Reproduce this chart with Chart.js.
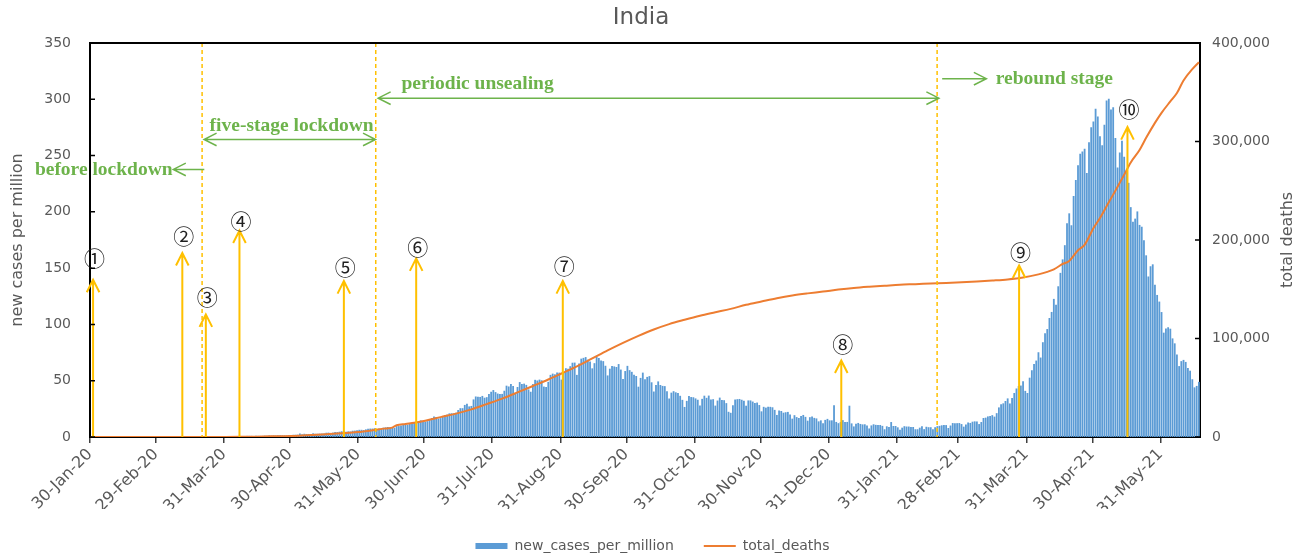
<!DOCTYPE html>
<html>
<head>
<meta charset="utf-8">
<title>India</title>
<script src="https://cdn.jsdelivr.net/npm/chart.js@4"></script>
<style>
  html, body { margin: 0; padding: 0; background: #fff; }
</style>
</head>
<body>
<canvas id="chart" width="1305" height="556"></canvas>
<script>
// day 0 = 30-Jan-20, one bar per day up to 17-Jun-21
const tickDays = [0, 30, 61, 91, 122, 152, 183, 214, 244, 275, 305, 336, 367, 395, 426, 456, 487];
const tickLabels = ['30-Jan-20', '29-Feb-20', '31-Mar-20', '30-Apr-20', '31-May-20', '30-Jun-20',
  '31-Jul-20', '31-Aug-20', '30-Sep-20', '31-Oct-20', '30-Nov-20', '31-Dec-20', '31-Jan-21',
  '28-Feb-21', '31-Mar-21', '30-Apr-21', '31-May-21'];

// new cases per million, one value per day (a line per month)
const newCasesPerMillion = [
  0,0,0,0,0,0,0,0,0,0,0,0,0,0,0,0,0,0,0,0,0,0,0,0,0,0,0,0,0,0,0,
  0,0,0,0,0,0,0,0,0,0,0,0,0,0,0,0,0,0,0,0,0.1,0.1,0.1,0.1,0.1,0.1,0.1,0.1,0.1,0.2,0.2,
  0.3,0.4,0.4,0.4,0.4,0.5,0.4,0.4,0.6,0.7,0.7,0.7,0.5,0.9,0.7,0.7,0.7,0.9,0.9,1.1,0.9,1.1,1.0,1.2,1.3,1.2,1.2,1.1,1.4,1.2,
  1.7,1.7,1.8,2.8,2.1,2.6,2.4,2.4,2.3,3.0,2.6,2.6,2.7,2.8,2.8,3.5,3.6,3.3,3.6,4.1,4.1,4.4,4.8,4.9,4.4,4.7,4.6,5.3,5.4,5.8,6.1,
  6.1,5.9,6.5,7.0,7.2,7.2,7.5,6.5,7.2,7.2,8.0,8.3,8.6,8.3,8.0,7.8,9.4,9.4,9.9,10.5,11.2,10.7,11.4,11.6,12.3,13.0,13.4,14.5,14.1,13.4,
  13.8,15.1,16.5,18.0,17.5,16.2,16.5,18.0,19.2,19.6,20.7,20.8,20.7,21.3,23.7,25.3,25.3,28.2,29.3,26.9,27.3,33.1,35.7,35.4,35.3,36.2,34.6,35.1,37.8,39.9,41.4,
  39.6,38.3,37.8,38.0,40.8,45.3,44.6,46.7,45.0,38.8,44.1,48.5,46.8,47.1,46.0,42.0,39.9,46.7,50.5,49.9,50.7,50.1,44.5,44.1,48.7,54.9,56.0,55.4,57.1,56.9,50.7,
  56.8,60.8,60.4,62.6,65.7,65.8,54.9,65.0,69.3,70.0,70.7,68.4,66.7,60.7,65.3,70.9,69.9,67.6,67.1,63.0,54.4,60.4,62.7,62.4,61.9,64.5,59.6,51.2,58.3,62.9,
  59.1,57.6,54.9,53.9,44.4,52.2,56.9,51.1,53.1,53.8,48.3,40.1,46.0,49.1,45.9,45.1,44.9,40.4,33.9,39.1,40.4,39.4,38.7,36.3,32.7,26.4,31.8,36.2,35.2,35.0,34.0,
  32.8,27.8,33.6,36.4,34.5,36.5,33.1,33.3,27.6,32.1,34.7,32.5,32.4,29.8,22.1,21.2,28.0,33.0,33.3,33.5,32.8,32.0,27.5,32.2,32.2,31.2,29.9,30.3,28.1,22.5,
  26.5,25.8,26.5,26.5,26.1,23.8,19.3,23.3,22.8,21.3,21.7,22.0,19.6,16.0,19.1,17.4,16.6,18.3,19.3,17.6,14.2,17.3,17.9,16.7,16.2,13.6,14.5,11.9,14.9,15.8,14.5,
  14.5,28.0,13.1,12.0,13.1,14.7,13.1,13.1,27.5,11.8,9.1,11.5,12.2,11.3,10.9,11.0,10.0,7.3,10.0,11.0,10.5,10.4,10.4,9.6,6.6,9.2,8.5,13.0,9.5,9.5,8.3,
  6.2,8.0,9.3,9.0,9.0,8.5,8.6,6.6,6.6,8.0,9.3,6.7,8.8,8.4,8.4,6.6,8.4,9.3,9.6,10.1,10.4,10.3,7.7,9.9,12.1,12.0,12.0,12.1,
  11.2,8.9,10.8,12.6,12.2,13.3,13.6,13.5,11.2,13.0,16.6,16.9,18.0,18.3,19.1,17.8,20.9,26.0,28.8,29.6,31.7,34.0,29.5,34.3,38.8,42.8,45.1,45.4,49.3,40.7,38.8,
  52.4,59.0,64.6,67.6,75.0,70.3,83.9,91.9,95.6,105.4,110.8,122.4,117.2,133.6,145.5,157.5,170.1,189.5,198.4,187.8,213.8,228.1,241.1,251.3,253.4,255.8,234.2,261.6,274.8,280.0,
  291.3,284.4,266.8,258.9,277.0,298.7,300.1,290.6,292.6,265.3,239.1,252.5,262.8,248.7,236.3,225.5,203.9,191.0,193.7,200.1,188.1,186.5,174.5,161.1,142.3,151.4,153.1,135.0,125.9,120.0,110.7,
  92.4,96.2,97.2,95.9,87.3,82.9,72.9,62.7,67.1,68.2,66.4,61.1,58.6,51.0,43.8,45.1,48.7
];

// cumulative deaths, read at roughly weekly days
const deathDays = [0, 35, 45, 55, 61, 68, 75, 82, 91, 98, 105, 112, 119, 122, 126, 133, 137, 139, 143, 147,
  152, 159, 166, 173, 180, 187, 194, 201, 208, 214, 221, 228, 235, 242, 249, 256, 263, 270, 277, 284,
  291, 298, 305, 312, 319, 326, 333, 340, 347, 354, 361, 368, 375, 382, 389, 396, 403, 410, 417, 424,
  431, 435, 438, 442, 445, 449, 452, 456, 459, 463, 466, 470, 473, 477, 480, 484, 487, 491, 494, 497,
  501, 504];
const totalDeaths = [0, 0, 2, 10, 35, 149, 377, 640, 1075, 1783, 2549, 3435, 4531, 5164, 6075, 8498, 9520, 11903, 13254, 14476,
  16475, 20160, 23727, 28084, 33425, 38938, 45257, 51797, 58390, 64469, 71642, 79722, 87882, 95542, 102685, 109150, 114610, 119014, 123097, 126611,
  130070, 134218, 137621, 140958, 143709, 145810, 147622, 149649, 151327, 152556, 153587, 154596, 155158, 155813, 156385, 157157, 157930, 158856, 159967, 161843,
  165101, 167642, 170179, 175649, 178769, 189544, 195123, 211853, 222408, 238270, 249992, 266207, 278719, 291331, 303720, 318895, 329100, 340702, 349186, 362000,
  373500, 380500];

// annotations (day index / left-axis value)
const phaseDays = [51, 130, 385.4];
const markerNames = ['①', '②', '③', '④', '⑤', '⑥', '⑦', '⑧', '⑨', '⑩'];
const markerDays = [1.4, 42, 52.7, 68, 115.5, 148.4, 215.1, 341.8, 422.7, 472];
const markerTops = [139.7, 163.4, 108.9, 183.5, 138.5, 158.7, 138.5, 68, 152.4, 275.3];
const markerLabelY = [158.7, 178.2, 124, 191.8, 150.9, 168.7, 151.5, 82.9, 164.2, 291.6];

const stages = [
  { text: 'before lockdown', from: 52, to: 37.9, y: 237.7, textDay: 37.6, textY: 232.4, align: 'right', both: false },
  { text: 'five-stage lockdown', from: 51.9, to: 129.9, y: 264.3, textDay: 54.4, textY: 271.7, align: 'left', both: true },
  { text: 'periodic unsealing', from: 131.1, to: 386.2, y: 301, textDay: 141.7, textY: 309.4, align: 'left', both: true },
  { text: 'rebound stage', from: 387.7, to: 407.8, y: 318.3, textDay: 412.1, textY: 313.8, align: 'left', both: false }
];

const BLUE = '#5B9BD5';
const ORANGE = '#ED7D31';
const YELLOW = '#FFC000';
const GREEN = '#6DB34B';
const GREY = '#595959';

Chart.defaults.font.family = '"DejaVu Sans", sans-serif';
Chart.defaults.color = GREY;

function arrowHead(ctx, x, y, dx, dy) {
  // open "V" head, (dx, dy) = unit direction the arrow points to
  const len = 12.5, half = 6.3;
  ctx.moveTo(x - dx * len - dy * half, y - dy * len + dx * half);
  ctx.lineTo(x, y);
  ctx.lineTo(x - dx * len + dy * half, y - dy * len - dx * half);
}

const markings = {
  id: 'markings',
  afterDatasetsDraw(chart) {
    const { ctx, chartArea: area, scales: { x, y } } = chart;
    const px = d => x.getPixelForValue(d);
    const py = v => y.getPixelForValue(v);
    ctx.save();

    // phase boundaries
    ctx.strokeStyle = YELLOW;
    ctx.lineWidth = 1.5;
    ctx.setLineDash([4, 3]);
    phaseDays.forEach(d => {
      ctx.beginPath();
      ctx.moveTo(px(d), area.top);
      ctx.lineTo(px(d), area.bottom);
      ctx.stroke();
    });
    ctx.setLineDash([]);

    // numbered event arrows
    ctx.lineWidth = 2;
    markerDays.forEach((d, i) => {
      const mx = px(d), top = py(markerTops[i]);
      ctx.beginPath();
      ctx.moveTo(mx, area.bottom);
      ctx.lineTo(mx, top);
      arrowHead(ctx, mx, top, 0, -1);
      ctx.stroke();
    });
    ctx.font = '21px "Noto Sans CJK SC"';
    ctx.fillStyle = '#1f1f1f';
    ctx.textAlign = 'center';
    ctx.textBaseline = 'middle';
    markerDays.forEach((d, i) => ctx.fillText(markerNames[i], px(d) + 1.5, py(markerLabelY[i])));

    // stage arrows + captions
    ctx.strokeStyle = GREEN;
    ctx.fillStyle = GREEN;
    ctx.lineWidth = 1.5;
    ctx.font = 'bold 19.5px "Liberation Serif"';
    ctx.textBaseline = 'alphabetic';
    stages.forEach(s => {
      const x0 = px(s.from), x1 = px(s.to), ly = py(s.y);
      const dir = x1 > x0 ? 1 : -1;
      ctx.beginPath();
      ctx.moveTo(x0, ly);
      ctx.lineTo(x1, ly);
      arrowHead(ctx, x1, ly, dir, 0);
      if (s.both) arrowHead(ctx, x0, ly, -dir, 0);
      ctx.stroke();
      ctx.textAlign = s.align;
      ctx.fillText(s.text, px(s.textDay), py(s.textY));
    });
    ctx.restore();
  },
  afterDraw(chart) {
    const { ctx, chartArea: area, scales: { y, y1 } } = chart;
    ctx.save();
    // top frame line
    ctx.strokeStyle = '#000';
    ctx.lineWidth = 2;
    ctx.beginPath();
    ctx.moveTo(area.left - 1, area.top);
    ctx.lineTo(area.right + 1, area.top);
    ctx.stroke();
    // inside tick marks on both value axes
    ctx.lineWidth = 1.5;
    ctx.beginPath();
    y.ticks.forEach(t => {
      const p = y.getPixelForValue(t.value);
      ctx.moveTo(area.left, p);
      ctx.lineTo(area.left + 5, p);
    });
    y1.ticks.forEach(t => {
      const p = y1.getPixelForValue(t.value);
      ctx.moveTo(area.right - 5, p);
      ctx.lineTo(area.right, p);
    });
    ctx.stroke();

    // chart title
    ctx.fillStyle = GREY;
    ctx.textAlign = 'center';
    ctx.textBaseline = 'middle';
    ctx.font = '23px "DejaVu Sans"';
    ctx.fillText('India', (area.left + area.right) / 2 - 4, 18);

    // right axis title, reading bottom to top
    ctx.font = '16px "DejaVu Sans"';
    ctx.translate(1288, (area.top + area.bottom) / 2);
    ctx.rotate(-Math.PI / 2);
    ctx.fillText('total deaths', 0, 0);
    ctx.restore();
  }
};

new Chart(document.getElementById('chart'), {
  type: 'bar',
  data: {
    datasets: [
      {
        label: 'new_cases_per_million',
        data: newCasesPerMillion.map((v, i) => ({ x: i + 0.5, y: v })),
        backgroundColor: BLUE,
        barThickness: 1.15,
        pointStyle: 'rect',
        yAxisID: 'y',
        order: 1
      },
      {
        type: 'line',
        label: 'total_deaths',
        data: deathDays.map((d, i) => ({ x: d + 0.5, y: totalDeaths[i] })),
        borderColor: ORANGE,
        backgroundColor: ORANGE,
        borderWidth: 2,
        pointRadius: 0,
        pointStyle: 'line',
        cubicInterpolationMode: 'monotone',
        yAxisID: 'y1',
        order: 0
      }
    ]
  },
  options: {
    responsive: false,
    animation: false,
    events: [],
    layout: { padding: { top: 43, left: 0, right: 0, bottom: -7 } },
    plugins: {
      title: { display: false },
      tooltip: { enabled: false },
      legend: {
        position: 'bottom',
        labels: {
          usePointStyle: true,
          pointStyleWidth: 32,
          boxHeight: 6,
          padding: 30,
          color: GREY,
          font: { size: 14 },
          sort: (a, b) => a.datasetIndex - b.datasetIndex
        }
      }
    },
    scales: {
      x: {
        type: 'linear',
        min: 0,
        max: 505,
        offset: false,
        afterBuildTicks: s => { s.ticks = tickDays.map(v => ({ value: v })); },
        afterFit: s => { s.height = 72; },
        ticks: {
          autoSkip: false,
          minRotation: 45,
          maxRotation: 45,
          padding: 2,
          color: GREY,
          font: { size: 16 },
          callback: (v, i) => tickLabels[i]
        },
        grid: { display: true, drawOnChartArea: false, drawTicks: true, tickLength: 6, color: '#404040', lineWidth: 1.5, offset: false },
        border: { display: true, color: '#000', width: 2 }
      },
      y: {
        position: 'left',
        min: 0,
        max: 350,
        afterFit: s => { s.width = 90; },
        ticks: { stepSize: 50, padding: 19, color: GREY, font: { size: 14 } },
        grid: { display: false, drawTicks: false },
        border: { display: true, color: '#000', width: 2 },
        title: { display: true, text: 'new cases per million', color: GREY, font: { size: 16 }, padding: { top: 8, bottom: 0 } }
      },
      y1: {
        position: 'right',
        min: 0,
        max: 400000,
        afterFit: s => { s.width = 105; },
        ticks: { stepSize: 100000, padding: 12, color: GREY, font: { size: 14 }, callback: v => v.toLocaleString('en-US') },
        grid: { display: false, drawTicks: false },
        border: { display: true, color: '#000', width: 2 }
      }
    }
  },
  plugins: [markings]
});
</script>
</body>
</html>
